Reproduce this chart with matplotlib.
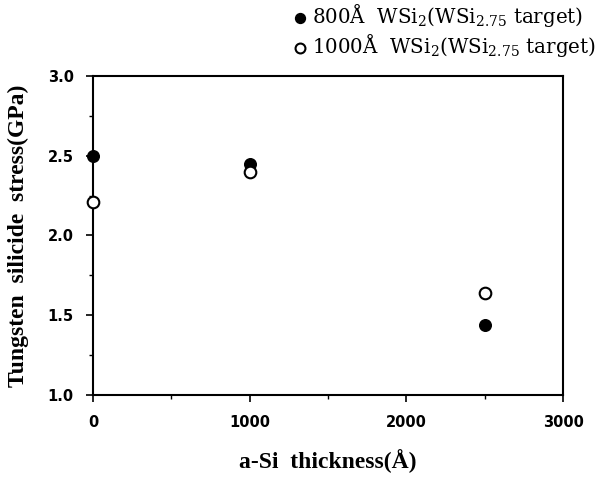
import matplotlib

matplotlib.use("Agg")
import matplotlib.pyplot as plt
from matplotlib.ticker import MultipleLocator

# data
THICK = [0, 1000, 2500]
STRESS_800 = [2.50, 2.45, 1.44]
STRESS_1000 = [2.21, 2.40, 1.64]
LABEL_800 = "800Å  WSi$_2$(WSi$_{2.75}$ target)"
LABEL_1000 = "1000Å  WSi$_2$(WSi$_{2.75}$ target)"
XTICKS = [0, 1000, 2000, 3000]
YTICKS = [1.0, 1.5, 2.0, 2.5, 3.0]

plt.rcParams["mathtext.fontset"] = "dejavuserif"
SERIF = "Liberation Serif"

fig = plt.figure(figsize=(6.12, 4.83), dpi=100)
ax = fig.add_axes([0.152, 0.182, 0.768, 0.661])

ax.scatter(THICK, STRESS_800, s=70, c="black", edgecolors="black", zorder=3, clip_on=False,
           label=LABEL_800)
ax.scatter(THICK, STRESS_1000, s=70, c="white", edgecolors="black", linewidths=1.5, zorder=3,
           clip_on=False, label=LABEL_1000)

ax.set_xlim(0, 3000)
ax.set_ylim(1.0, 3.0)
ax.set_xticks(XTICKS)
ax.set_yticks(YTICKS)
ax.set_xticklabels([str(t) for t in XTICKS])
ax.set_yticklabels([f"{t:.1f}" for t in YTICKS])
ax.xaxis.set_minor_locator(MultipleLocator(500))
ax.yaxis.set_minor_locator(MultipleLocator(0.25))
ax.tick_params(which="major", direction="out", length=5, width=1.2, labelsize=10.5, pad=9)
ax.tick_params(which="minor", direction="out", length=3, width=1)
for lab in ax.get_xticklabels() + ax.get_yticklabels():
    lab.set_fontweight("bold")
for s in ax.spines.values():
    s.set_linewidth(1.5)

ax.set_xlabel("a-Si  thickness(Å)", fontfamily=SERIF, fontweight="bold", fontsize=17, labelpad=14)
ax.set_ylabel("Tungsten  silicide  stress(GPa)", fontfamily=SERIF, fontweight="bold", fontsize=17,
              labelpad=13)

ax.legend(loc="upper left", bbox_to_anchor=(0.475, 1.0), bbox_transform=fig.transFigure,
          frameon=False, handlelength=0.7, handletextpad=0.25, borderaxespad=0, borderpad=0.1,
          labelspacing=0.15, prop={"family": "DejaVu Serif", "size": 14.3}, markerscale=0.85)

fig.savefig("out.png", dpi=100, facecolor="white")
